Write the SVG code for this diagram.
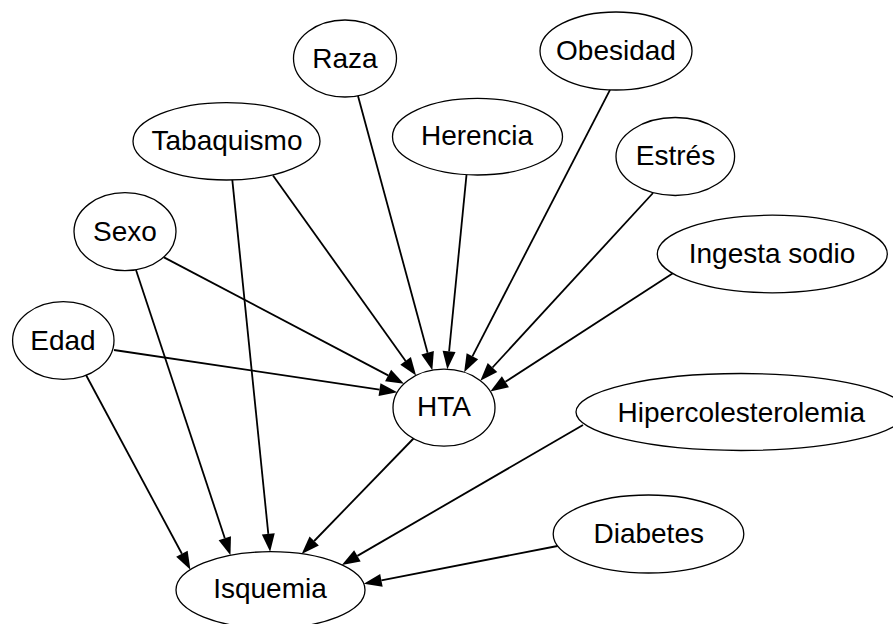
<svg xmlns="http://www.w3.org/2000/svg" width="893" height="624" viewBox="0 0 893 624">
  <style>
    .node ellipse { fill: #ffffff; stroke: #000000; stroke-width: 1.3; }
    .node text { font-family: "Liberation Sans", Arial, Helvetica, sans-serif; font-size: 28px; fill: #000000; text-anchor: middle; }
    #edges line { stroke: #000000; stroke-width: 1.8; fill: none; marker-end: url(#arrow); }
  </style>
  <defs>
    <marker id="arrow" markerUnits="userSpaceOnUse" viewBox="0 -7 20 14" refX="0" refY="0" markerWidth="20" markerHeight="14" orient="auto" overflow="visible">
      <path d="M0,-6.5 L18,0 L0,6.5 Z" fill="#000000"/>
    </marker>
  </defs>
  <rect x="0" y="0" width="893" height="624" fill="#ffffff"/>

  <g id="edges">
    <!-- risk factors into HTA -->
    <line x1="114" y1="350" x2="379.5" y2="389.6"/>
    <line x1="164" y1="257.4" x2="388.1" y2="375.4"/>
    <line x1="273" y1="175.5" x2="405.6" y2="360.9"/>
    <line x1="358" y1="96" x2="427.6" y2="352.8"/>
    <line x1="466.5" y1="174.8" x2="449.1" y2="351.4"/>
    <line x1="610" y1="89.8" x2="472.4" y2="356.3"/>
    <line x1="653" y1="193" x2="492.5" y2="367.5"/>
    <line x1="672.5" y1="273.5" x2="505.4" y2="381.8"/>
    <!-- factors into Isquemia -->
    <line x1="86" y1="375" x2="181.9" y2="553.8"/>
    <line x1="136" y1="270" x2="224.8" y2="538.2"/>
    <line x1="232.3" y1="179.9" x2="268.3" y2="533.8"/>
    <line x1="413.5" y1="438.5" x2="314.2" y2="541"/>
    <line x1="583" y1="425" x2="357.4" y2="555.9"/>
    <line x1="557.5" y1="546" x2="381.4" y2="580.3"/>
  </g>

  <g id="raza" class="node">
    <ellipse cx="345" cy="58.5" rx="51.5" ry="38.5"/>
    <text x="345" y="68">Raza</text>
  </g>
  <g id="obesidad" class="node">
    <ellipse cx="616" cy="51" rx="76" ry="39"/>
    <text x="616" y="60">Obesidad</text>
  </g>
  <g id="tabaquismo" class="node">
    <ellipse cx="226.5" cy="141.3" rx="93.5" ry="38.7"/>
    <text x="227" y="150">Tabaquismo</text>
  </g>
  <g id="herencia" class="node">
    <ellipse cx="477.5" cy="136.7" rx="85" ry="38.3"/>
    <text x="477" y="145">Herencia</text>
  </g>
  <g id="estres" class="node">
    <ellipse cx="675.3" cy="156.5" rx="59.3" ry="39"/>
    <text x="675.5" y="165">Estrés</text>
  </g>
  <g id="sexo" class="node">
    <ellipse cx="125" cy="231.7" rx="51" ry="39"/>
    <text x="125" y="240.7">Sexo</text>
  </g>
  <g id="ingesta-sodio" class="node">
    <ellipse cx="772.3" cy="254" rx="115" ry="38.8"/>
    <text x="772" y="263">Ingesta sodio</text>
  </g>
  <g id="edad" class="node">
    <ellipse cx="63.3" cy="340.5" rx="50.7" ry="38.8"/>
    <text x="63" y="350">Edad</text>
  </g>
  <g id="hta" class="node">
    <ellipse cx="444" cy="407.7" rx="51" ry="38.5"/>
    <text x="444" y="416">HTA</text>
  </g>
  <g id="hipercolesterolemia" class="node">
    <ellipse cx="741" cy="412" rx="165" ry="38.5"/>
    <text x="741.3" y="421.5">Hipercolesterolemia</text>
  </g>
  <g id="diabetes" class="node">
    <ellipse cx="648.5" cy="534" rx="95.3" ry="39"/>
    <text x="648.7" y="543">Diabetes</text>
  </g>
  <g id="isquemia" class="node">
    <ellipse cx="270.5" cy="590" rx="94.5" ry="38.3"/>
    <text x="270" y="598">Isquemia</text>
  </g>
</svg>
